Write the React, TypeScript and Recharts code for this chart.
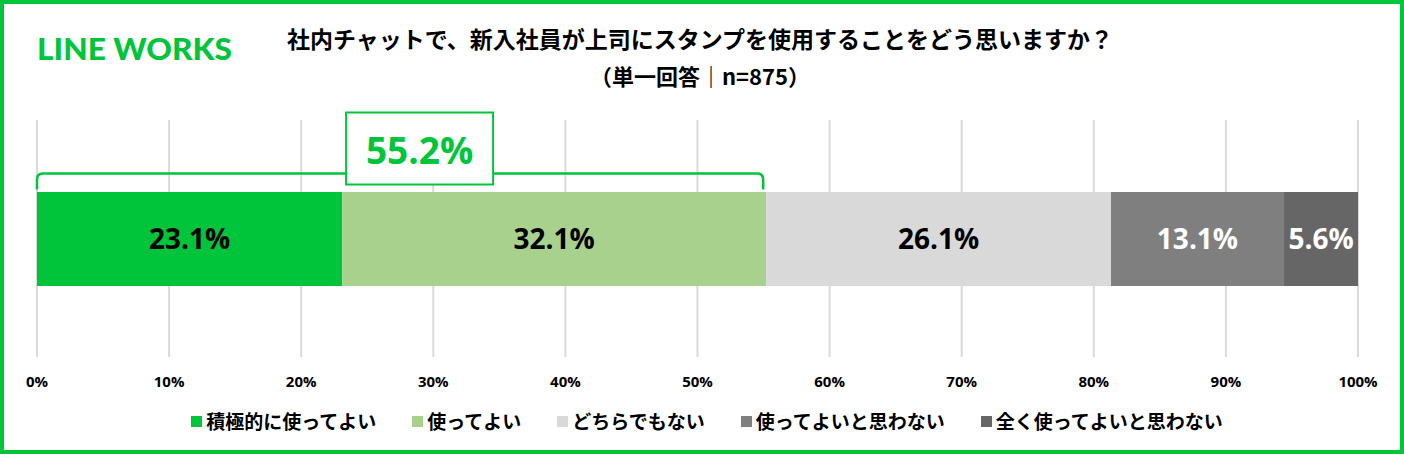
import { Bar, BarChart, CartesianGrid, LabelList, Legend, ReferenceArea, XAxis, YAxis } from "recharts";

// Single stacked 100% bar: opinions on new hires using stamps in chat with their boss.
const CATEGORIES = ["全体"];
const SERIES = [
  "積極的に使ってよい",
  "使ってよい",
  "どちらでもない",
  "使ってよいと思わない",
  "全く使ってよいと思わない",
];
const VALUES = [23.1, 32.1, 26.1, 13.1, 5.6];
const X_TICKS = [0, 10, 20, 30, 40, 50, 60, 70, 80, 90, 100];

const TITLE = "社内チャットで、新入社員が上司にスタンプを使用することをどう思いますか？";
const SUBTITLE = "（単一回答｜n=875）";

const GREEN = "#00C53B";
const COLORS = [GREEN, "#A9D18E", "#D9D9D9", "#7F7F7F", "#666666"];
const LABEL_COLORS = ["#000000", "#000000", "#000000", "#FFFFFF", "#FFFFFF"];

const W = 1404;
const H = 454;
const BAR_SIZE = 94;
const NUM_FONT = "'Open Sans', 'Noto Sans', sans-serif";
const JP_FONT = "'Noto Sans CJK JP', 'Noto Sans', sans-serif";

// positive share = first two answers
const TOP2 = Math.round((VALUES[0] + VALUES[1]) * 10) / 10;

const data = CATEGORIES.map((name) => {
  const row: Record<string, string | number> = { name };
  SERIES.forEach((_, i) => {
    row[`s${i}`] = VALUES[i];
  });
  return row;
});

function Bracket(props: any) {
  const { x, y, width, height } = props;
  const barTop = y + height / 2 - BAR_SIZE / 2;
  const lineY = barTop - 18;
  const endY = barTop - 2;
  const r = 6;
  const x0 = x;
  const x1 = x + width - 3;
  const d = `M${x0},${endY} L${x0},${lineY + r} Q${x0},${lineY} ${x0 + r},${lineY} L${x1 - r},${lineY} Q${x1},${lineY} ${x1},${lineY + r} L${x1},${endY}`;
  const cx = x + width / 2 + 18;
  const boxTop = barTop - 79;
  return (
    <g>
      <path d={d} fill="none" stroke={GREEN} strokeWidth={2.5} />
      <rect x={cx - 73.5} y={boxTop} width={147} height={72} fill="#FFFFFF" stroke={GREEN} strokeWidth={2} />
      <text
        x={cx}
        y={boxTop + 37}
        textAnchor="middle"
        dominantBaseline="central"
        fill={GREEN}
        fontSize={37}
        fontWeight={700}
        fontFamily={NUM_FONT}
      >
        {`${TOP2}%`}
      </text>
    </g>
  );
}

function LegendRow({ payload }: { payload?: any[] }) {
  // keep the series order (the library sorts legend items by name)
  const items = [...(payload || [])].sort((a, b) => SERIES.indexOf(a.value) - SERIES.indexOf(b.value));
  return (
    <div style={{ display: "flex", justifyContent: "center", gap: 36, paddingLeft: 10 }}>
      {items.map((p) => (
        <div key={p.value} style={{ display: "flex", alignItems: "center" }}>
          <span style={{ width: 11, height: 11, background: p.color, marginRight: 4, display: "inline-block" }} />
          <span style={{ fontFamily: JP_FONT, fontWeight: 700, fontSize: 19, lineHeight: "24px", color: "#000" }}>
            {p.value}
          </span>
        </div>
      ))}
    </div>
  );
}

export default function App() {
  return (
    <div style={{ position: "absolute", left: 0, top: 0, width: W, height: H, background: "#FFFFFF", overflow: "hidden" }}>
      <svg width={260} height={80} style={{ position: "absolute", left: 0, top: 0 }}>
        <text
          x={37}
          y={60}
          fill={GREEN}
          fontSize={30}
          fontWeight={900}
          fontFamily="Lato, 'Open Sans', sans-serif"
          textLength={195}
          lengthAdjust="spacingAndGlyphs"
        >
          LINE WORKS
        </text>
      </svg>
      <div
        style={{
          position: "absolute",
          left: 0,
          top: 24,
          width: 1400,
          textAlign: "center",
          fontFamily: JP_FONT,
          fontWeight: 700,
          fontSize: 23,
          lineHeight: "28px",
          color: "#000",
        }}
      >
        {TITLE}
      </div>
      <div
        style={{
          position: "absolute",
          left: 0,
          top: 61,
          width: 1400,
          textAlign: "center",
          fontFamily: JP_FONT,
          fontWeight: 700,
          fontSize: 22,
          lineHeight: "28px",
          color: "#000",
        }}
      >
        {SUBTITLE}
      </div>

      <div style={{ position: "absolute", left: 0, top: 0 }}>
        <BarChart
          width={W}
          height={H}
          data={data}
          layout="vertical"
          margin={{ top: 120, right: 46, bottom: 67, left: 37 }}
        >
          <CartesianGrid horizontal={false} stroke="#D9D9D9" strokeWidth={2} />
          <XAxis
            type="number"
            domain={[0, 100]}
            ticks={X_TICKS}
            tickFormatter={(v) => `${v}%`}
            axisLine={false}
            tickLine={false}
            tickSize={6}
            tickMargin={13}
            height={30}
            interval={0}
            tick={{ fill: "#000", fontSize: 15, fontWeight: 700, fontFamily: NUM_FONT }}
          />
          <YAxis type="category" dataKey="name" hide />
          {SERIES.map((s, i) => (
            <Bar
              key={s}
              dataKey={`s${i}`}
              name={s}
              stackId="a"
              fill={COLORS[i]}
              barSize={BAR_SIZE}
              isAnimationActive={false}
            >
              <LabelList
                dataKey={`s${i}`}
                position="center"
                formatter={(v: any) => `${v}%`}
                fill={LABEL_COLORS[i]}
                fontSize={28}
                fontWeight={700}
                fontFamily={NUM_FONT}
              />
            </Bar>
          ))}
          <ReferenceArea x1={0} x2={TOP2} shape={<Bracket />} />
          <Legend
            verticalAlign="middle"
            align="center"
            wrapperStyle={{ top: 409, left: 0, width: W }}
            content={(p: any) => <LegendRow payload={p.payload} />}
          />
        </BarChart>
      </div>

      <div
        style={{
          position: "absolute",
          left: 0,
          top: 0,
          width: W,
          height: H,
          boxSizing: "border-box",
          border: `4px solid ${GREEN}`,
          pointerEvents: "none",
        }}
      />
    </div>
  );
}
